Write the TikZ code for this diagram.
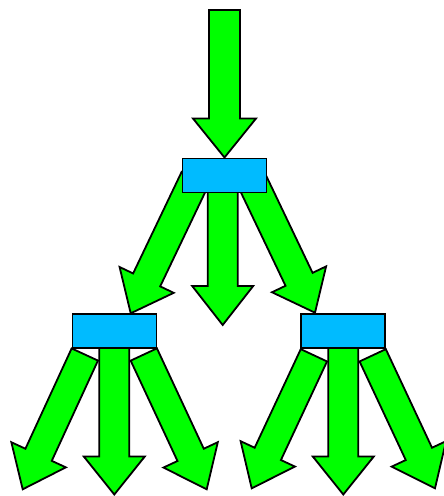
\documentclass[tikz,border=0pt]{standalone}
\usetikzlibrary{calc}
\definecolor{arrowgreen}{RGB}{0,255,0}
\definecolor{boxblue}{RGB}{0,187,255}
\tikzset{
  blockfill/.style={fill=arrowgreen, draw=black, line width=1.8pt, line join=miter},
  stagebox/.style={rectangle, fill=boxblue, draw=black, line width=1.8pt,
    minimum width=84pt, minimum height=34pt, inner sep=0pt, outer sep=0pt}
}
% block arrow: #1 tail centre, #2 tip, #3 half shaft width, #4 half head width, #5 head length
\newcommand\blockarrow[5]{%
  \coordinate (nk) at ($(#2)!#5!(#1)$);
  \draw[blockfill] ($(#1)!#3!90:(#2)$) -- ($(nk)!#3!90:(#2)$) -- ($(nk)!#4!90:(#2)$)
    -- (#2) -- ($(nk)!#4!-90:(#2)$) -- ($(nk)!#3!-90:(#2)$) -- ($(#1)!#3!-90:(#2)$) -- cycle;
}
\begin{document}
\begin{tikzpicture}[x=1pt, y=-1pt]
\useasboundingbox (0,0) rectangle (444,496);

% arrow anchors
\coordinate (inTail) at (224.5,10);
\coordinate (inTip) at (224.5,157.5);
\coordinate (mcTail) at (222.7,185);
\coordinate (mcTip) at (222.7,325);
\coordinate (mlTail) at (195.2,178.3);
\coordinate (mlTip) at (130.7,313.3);
\coordinate (mrTail) at (250.5,177.7);
\coordinate (mrTip) at (315,312.7);
\coordinate (llTail) at (84.8,354.5);
\coordinate (llTip) at (22.7,489.3);
\coordinate (lcTail) at (114.3,340);
\coordinate (lcTip) at (114.3,494.5);
\coordinate (lrTail) at (143.8,354.5);
\coordinate (lrTip) at (206.7,489.3);
\coordinate (rlTail) at (313.9,355.3);
\coordinate (rlTip) at (251.7,488.3);
\coordinate (rcTail) at (343.3,340);
\coordinate (rcTip) at (343.3,494.5);
\coordinate (rrTail) at (372.7,355.3);
\coordinate (rrTip) at (435,488.3);

% arrows
\blockarrow{inTail}{inTip}{15.5pt}{31.5pt}{39pt}
\blockarrow{mlTail}{mlTip}{15pt}{30pt}{37pt}
\blockarrow{mrTail}{mrTip}{15pt}{30pt}{37pt}
\blockarrow{mcTail}{mcTip}{15pt}{30.5pt}{39pt}
\blockarrow{llTail}{llTip}{14.5pt}{30pt}{38pt}
\blockarrow{lrTail}{lrTip}{14.5pt}{30pt}{38pt}
\blockarrow{lcTail}{lcTip}{15pt}{30.5pt}{38pt}
\blockarrow{rlTail}{rlTip}{14.5pt}{30pt}{38pt}
\blockarrow{rrTail}{rrTip}{14.5pt}{30pt}{38pt}
\blockarrow{rcTail}{rcTip}{15pt}{30.5pt}{38pt}

% boxes on top
\node[stagebox] (top) at (224.5,175.5) {};
\node[stagebox] (left) at (114.5,331) {};
\node[stagebox] (right) at (343.2,331) {};
\end{tikzpicture}
\end{document}
